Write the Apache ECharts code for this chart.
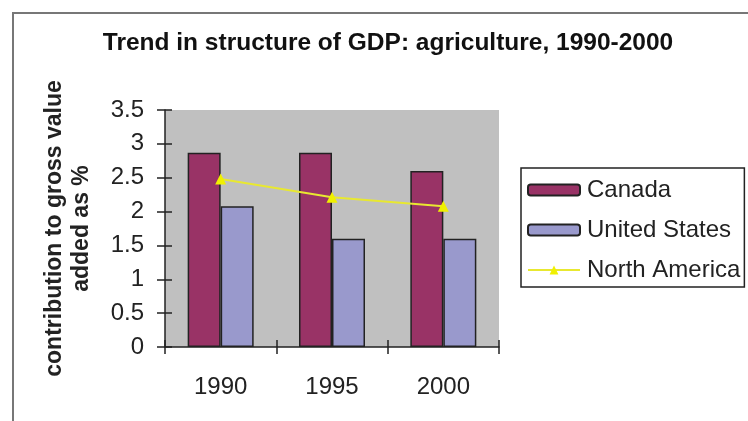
<!DOCTYPE html>
<html>
<head>
<meta charset="utf-8">
<script src="https://cdn.jsdelivr.net/npm/echarts@6/dist/echarts.min.js"></script>
<style>html,body{margin:0;padding:0;background:#fff}#c{width:748px;height:421px}</style>
</head>
<body>
<div id="c"></div>
<script>
const categories = ['1990', '1995', '2000'];
const canada = [2.87, 2.87, 2.6];
const unitedStates = [2.08, 1.6, 1.6];
const northAmerica = [2.48, 2.21, 2.08];
const yTicks = [0, 0.5, 1, 1.5, 2, 2.5, 3, 3.5];

const chart = echarts.init(document.getElementById('c'));
const FONT = 'Liberation Sans, Arial, sans-serif';
chart.setOption({
  animation: false,
  backgroundColor: '#fff',
  title: {
    text: 'Trend in structure of GDP: agriculture, 1990-2000',
    left: 383, top: 26, textAlign: 'center',
    textStyle: { fontFamily: FONT, fontSize: 24.5, fontWeight: 'bold', color: '#111' }
  },
  graphic: [{
    type: 'rect', shape: { x: 13, y: 13, width: 800, height: 460 },
    style: { fill: 'none', stroke: '#777', lineWidth: 2 }, silent: true
  }],
  legend: {
    left: 521, top: 168,
    orient: 'vertical',
    itemWidth: 52, itemHeight: 11, itemGap: 16,
    padding: [10, 4, 5, 6],
    borderColor: '#222', borderWidth: 1.5,
    textStyle: { fontFamily: FONT, fontSize: 24, color: '#222', padding: [0, 0, 0, 2] },
    data: ['Canada', 'United States', 'North America']
  },
  grid: { left: 165, right: 249, top: 110, bottom: 74, show: true, backgroundColor: '#c0c0c0', borderWidth: 0 },
  xAxis: [{
    type: 'category', data: categories,
    axisLine: { lineStyle: { color: '#222', width: 1.5 } },
    axisTick: { show: true, length: 7, lineStyle: { color: '#222', width: 1.5 } },
    axisLabel: { fontFamily: FONT, fontSize: 24, color: '#222', margin: 28 }
  }, {
    type: 'category', data: categories, position: 'bottom',
    axisLine: { show: false },
    axisTick: { show: true, inside: true, length: 7, lineStyle: { color: '#222', width: 1.5 } },
    axisLabel: { show: false }
  }],
  yAxis: [{
    type: 'value', min: 0, max: 3.5, interval: 0.5,
    name: 'contribution to gross value\nadded as %',
    nameLocation: 'middle', nameRotate: 90, nameGap: 70,
    nameTextStyle: { fontFamily: FONT, fontSize: 23, fontWeight: 'bold', color: '#222', lineHeight: 27 },
    axisLine: { show: true, lineStyle: { color: '#222', width: 1.5 } },
    axisTick: { show: true, length: 8, lineStyle: { color: '#222', width: 1.5 } },
    splitLine: { show: false },
    axisLabel: { fontFamily: FONT, fontSize: 24, color: '#222', margin: 21,
      formatter: v => yTicks.includes(v) ? String(v) : '' }
  }, {
    type: 'value', min: 0, max: 3.5, interval: 0.5, position: 'left',
    axisLine: { show: false },
    axisTick: { show: true, inside: true, length: 7, lineStyle: { color: '#222', width: 1.5 } },
    splitLine: { show: false }, axisLabel: { show: false }
  }],
  series: [{
    name: 'Canada', type: 'bar', data: canada, barWidth: 33, barGap: '0%', barCategoryGap: '40%',
    itemStyle: { color: '#993366', borderColor: '#222', borderWidth: 1.5 }
  }, {
    name: 'United States', type: 'bar', data: unitedStates, barWidth: 33, barGap: '0%',
    itemStyle: { color: '#9999cc', borderColor: '#222', borderWidth: 1.5 }
  }, {
    name: 'North America', type: 'line', data: northAmerica,
    symbol: 'triangle', symbolSize: 11,
    lineStyle: { color: '#e8e830', width: 2 },
    itemStyle: { color: '#f0f000' }
  }]
});
</script>
</body>
</html>
